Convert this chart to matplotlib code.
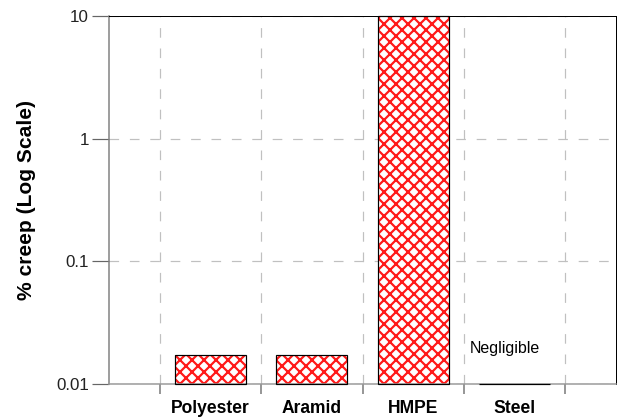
import matplotlib
matplotlib.use("Agg")
import matplotlib.pyplot as plt

# creep values (log scale)
materials = ["Polyester", "Aramid", "HMPE", "Steel"]
creep = [0.0172, 0.0172, 10.0, 0.01002]
y_ticks = [0.01, 0.1, 1, 10]
y_tick_labels = ["0.01", "0.1", "1", "10"]

plt.rcParams["font.family"] = ["Liberation Sans", "DejaVu Sans"]
plt.rcParams["hatch.color"] = "#ff1a1a"
plt.rcParams["hatch.linewidth"] = 2.2

fig = plt.figure(figsize=(619 / 72, 419 / 72), dpi=72)
ax = fig.add_axes([109 / 619, 35 / 419, 507 / 619, 368 / 419])

pos = list(range(1, len(materials) + 1))
base = 0.01
heights = [v - base for v in creep]

# hatch layer, then black outline on top
ax.bar(pos, heights, width=0.7, bottom=base, color="white", hatch="xx",
       edgecolor="#ff1a1a", linewidth=0, zorder=2)
ax.bar(pos, heights, width=0.7, bottom=base, fill=False,
       edgecolor="black", linewidth=1.2, zorder=4, clip_on=False)

ax.set_yscale("log")
ax.set_ylim(0.01, 10)
ax.set_xlim(0, 5)

ax.set_yticks(y_ticks)
ax.set_yticklabels(y_tick_labels, fontsize=17, color="#222222")
ax.yaxis.set_minor_locator(matplotlib.ticker.NullLocator())
ax.tick_params(axis="y", length=17, width=1.2, color="#666666", pad=3)

# ticks between categories, labels under the bars
ax.set_xticks([0.5, 1.5, 2.5, 3.5, 4.5])
ax.set_xticklabels([])
ax.tick_params(axis="x", which="major", length=10, width=1.5, color="#777777")
ax.set_xticks(pos, minor=True)
ax.set_xticklabels(materials, minor=True, fontsize=17.5, fontweight="bold")
ax.tick_params(axis="x", which="minor", length=0, pad=16)

ax.grid(True, which="major", color="#c0c0c0", linestyle=(0, (8, 9)),
        linewidth=1.2, zorder=0)
ax.set_axisbelow(True)

for side in ["top", "right"]:
    ax.spines[side].set_color("black")
    ax.spines[side].set_linewidth(1.0)
ax.spines["left"].set_color("#808080")
ax.spines["left"].set_linewidth(1.5)
ax.spines["bottom"].set_color("#999999")
ax.spines["bottom"].set_linewidth(1.5)

ax.text(3.9, 0.0193, "Negligible", ha="center", va="center", fontsize=16)

ax.set_ylabel("% creep (Log Scale)", fontsize=21, fontweight="bold", labelpad=20)

fig.savefig("out.png", dpi=72)
